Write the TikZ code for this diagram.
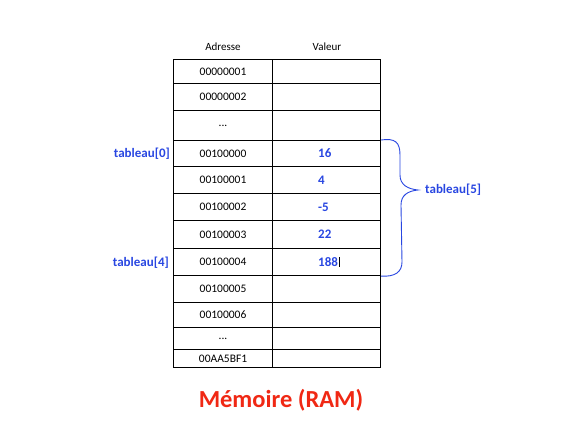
\documentclass[tikz,border=0pt]{standalone}
\usepackage{fontspec}
\setmainfont{Carlito}
\definecolor{tabblue}{RGB}{40,70,225}
\definecolor{ramred}{RGB}{240,40,20}
\tikzset{
  head/.style={font=\fontsize{11}{13}\selectfont},
  adrcell/.style={draw,line width=1.1pt,anchor=north west,inner sep=0pt,
    minimum width=99pt,font=\fontsize{11.5}{13}\selectfont},
  valcell/.style={draw,line width=1.1pt,anchor=north west,inner sep=0pt,
    minimum width=108pt},
  val/.style={anchor=west,inner sep=0pt,text=tabblue,font=\bfseries\fontsize{13}{15}\selectfont},
  lbl/.style={inner sep=0pt,text=tabblue,font=\bfseries\fontsize{13}{15}\selectfont}
}
\begin{document}
\begin{tikzpicture}[x=1pt,y=-1pt]
  \useasboundingbox (0,0) rectangle (566,424);
  \node[head] (hadr) at (223,47) {Adresse};
  \node[head] (hval) at (327,47) {Valeur};
  % memory cells
  \foreach \t/\b/\adr [count=\i] in {59/83/00000001,83/110/00000002,110/140/{...},
      140/166/00100000,166/193/00100001,193/220/00100002,220/248/00100003,
      248/275/00100004,275/302/00100005,302/327/00100006,327/349/{...},349/367/00AA5BF1}{
    \node[adrcell,minimum height=\b-\t] (a\i) at (173,\t) {\adr};
    \node[valcell,minimum height=\b-\t] (c\i) at (272,\t) {};
  }
  % values of the array
  \foreach \v/\i in {16/4,4/5,-5/6,22/7,188/8}
    \node[val] (v\i) at ([xshift=46pt]c\i.west) {\v};
  \draw[line width=0.8pt] ([xshift=1.5pt]v8.north east) -- ([xshift=1.5pt]v8.south east);
  \node[lbl,anchor=east] (t0) at (170,154) {tableau[0]};
  \node[lbl,anchor=east] (t4) at (169,263) {tableau[4]};
  % brace
  \coordinate (bt) at (c4.north east);
  \coordinate (bb) at (c8.south east);
  \coordinate (tip) at (418,190);
  \draw[tabblue,line width=0.9pt] (bt) .. controls (395,138) and (400,142) .. (400,155)
    -- (400,175) .. controls (400,185) and (408,189) .. (tip)
    .. controls (408,191) and (401,195) .. (401,205)
    -- (402,262) .. controls (402,272) and (395,277) .. (bb);
  \node[lbl,anchor=west] (t5) at ([xshift=7pt]tip) {tableau[5]};
  \node[text=ramred,font=\bfseries\fontsize{24.5}{28}\selectfont] (ram) at (281,400) {Mémoire (RAM)};
\end{tikzpicture}
\end{document}
